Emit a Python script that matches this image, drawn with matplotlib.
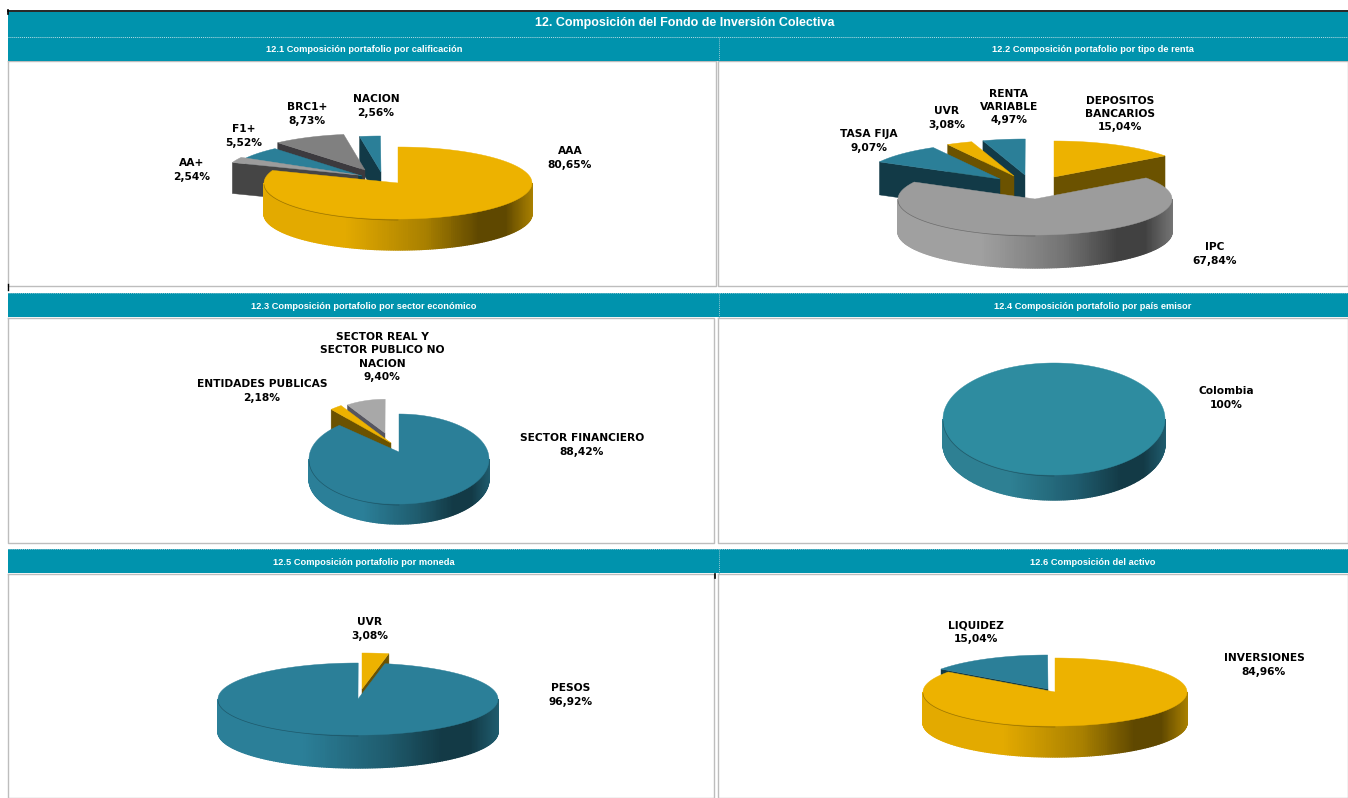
import numpy as np
import matplotlib
matplotlib.use('Agg')
import matplotlib.pyplot as plt
from matplotlib.colors import LinearSegmentedColormap

# =====================================================================================
# data
calificacionLabels = ['AAA', 'AA+', 'F1+', 'BRC1+', 'NACION']
calificacionValues = [80.65, 2.54, 5.52, 8.73, 2.56]
rentaLabels = ['DEPOSITOS\nBANCARIOS', 'IPC', 'TASA FIJA', 'UVR', 'RENTA\nVARIABLE']
rentaValues = [15.04, 67.84, 9.07, 3.08, 4.97]
sectorLabels = ['SECTOR FINANCIERO', 'ENTIDADES PUBLICAS', 'SECTOR REAL Y\nSECTOR PUBLICO NO\nNACION']
sectorValues = [88.42, 2.18, 9.40]
paisLabels = ['Colombia']
paisValues = [100]
monedaLabels = ['UVR', 'PESOS']
monedaValues = [3.08, 96.92]
activoLabels = ['INVERSIONES', 'LIQUIDEZ']
activoValues = [84.96, 15.04]

mainTitle = '12. Composición del Fondo de Inversión Colectiva'
subTitles = ['12.1 Composición portafolio por calificación',
             '12.2 Composición portafolio por tipo de renta',
             '12.3 Composición portafolio por sector económico',
             '12.4 Composición portafolio por país emisor',
             '12.5 Composición portafolio por moneda',
             '12.6 Composición del activo']

# =====================================================================================
# colours: (top face, cut wall, gradient left, gradient mid, gradient dark)
GOLD = ('#EDB200', '#6B5200', '#E3AA00', '#A98000', '#5F4800')
TEAL = ('#2B7F98', '#123A47', '#2B7F98', '#1F5C6E', '#133A46')
PAIS = ('#2E8CA0', '#123A47', '#2E8093', '#1F5C6E', '#133A46')
GREY = ('#9C9C9C', '#454545', '#A0A0A0', '#747474', '#414141')
MIDGREY = ('#808080', '#3C3A3E', '#808080', '#606060', '#404040')
LIGHTGREY = ('#A8A8A8', '#55555F', '#A8A8A8', '#747474', '#414141')

HEADER = '#0093AD'
BORDER = '#BDBDBD'

# offsets per slice: (shift x, shift y, radius scale, shift of the apex)
panels = [
    dict(values=calificacionValues, labels=calificacionLabels,
         colors=[GOLD, GREY, TEAL, MIDGREY, TEAL],
         cx=398, cy=183, rx=134, ry=36, depth=31,
         offsets=[(0, 0, 1, 0), (-40, -8, 1, 0), (-36, -7, 1, 0), (-33, -13, 1, 0), (-17, -11, 1, 0)],
         order=[4, 3, 2, 1, 0],
         text=[(570, 158), (192, 170), (244, 136), (307, 114), (376, 106)]),
    dict(values=rentaValues, labels=rentaLabels,
         colors=[GOLD, GREY, TEAL, GOLD, TEAL],
         cx=1035, cy=199, rx=137, ry=36, depth=33,
         offsets=[(19, -22, 1, 0), (0, 0, 1, 0), (-35, -20, 1, 0), (-21, -23, 1, 0), (-10, -24, 1, 0)],
         order=[4, 3, 2, 0, 1],
         text=[(1120, 114), (1215, 254), (869, 141), (947, 118), (1009, 107)]),
    dict(values=sectorValues, labels=sectorLabels,
         colors=[TEAL, GOLD, LIGHTGREY],
         cx=399, cy=459, rx=90, ry=45, depth=20,
         offsets=[(0, 0, 1, -7), (-8, -16, 1, 0), (-14, -26, 0.75, 0)],
         order=[2, 1, 0],
         text=[(582, 445), (262, 391), (382, 357)]),
    dict(values=paisValues, labels=paisLabels,
         colors=[PAIS],
         cx=1054, cy=419, rx=111, ry=56, depth=25,
         offsets=[(0, 0, 1, 0)],
         order=[0],
         text=[(1226, 398)]),
    dict(values=monedaValues, labels=monedaLabels,
         colors=[GOLD, TEAL],
         cx=358, cy=699, rx=140, ry=36, depth=33,
         offsets=[(4, -10, 1, 0), (0, 0, 1, 0)],
         order=[0, 1],
         text=[(370, 629), (571, 695)]),
    dict(values=activoValues, labels=activoLabels,
         colors=[GOLD, TEAL],
         cx=1055, cy=692, rx=132, ry=34, depth=31,
         offsets=[(0, 0, 1, 0), (-7, -3, 1, 0)],
         order=[1, 0],
         text=[(1264, 665), (976, 632)]),
]


def formatValue(value):
    if value == 100:
        return '100%'
    return f'{value:.2f}'.replace('.', ',') + '%'


def drawSlice(ax, cx, cy, rx, ry, depth, t0, t1, colors, isFull, apexShift):
    top, cutWall, gradLeft, gradMid, gradDark = colors
    cmap = LinearSegmentedColormap.from_list('wall', [(0, gradLeft), (0.3, gradLeft), (0.6, gradMid),
                                                      (0.8, gradDark), (0.9, gradDark), (1, gradMid)])
    angle = np.radians(np.arange(t0, t1 + 0.25, 0.5))
    xs = cx + rx * np.sin(angle)
    ys = cy - ry * np.cos(angle)

    # flat walls of the cut, only those turned to the viewer
    if not isFull:
        for t in (t0, t1):
            s = np.sin(np.radians(t))
            if (t == t0 and s < -1e-6) or (t == t1 and s > 1e-6):
                ex = cx + rx * s
                ey = cy - ry * np.cos(np.radians(t))
                ax.fill([cx, ex, ex, cx], [cy, ey, ey + depth, cy + depth],
                        color=cutWall, lw=0.3, zorder=3)

    # outer wall, shaded along x
    front = np.arange(max(t0, 90), min(t1, 270), 1.0)
    for t in front:
        a = np.radians([t, min(t + 1.0, t1, 270)])
        px = cx + rx * np.sin(a)
        py = cy - ry * np.cos(a)
        shade = cmap((0.5 * (px[0] + px[1]) - (cx - rx)) / (2 * rx))
        ax.fill([px[0], px[1], px[1], px[0]], [py[0], py[1], py[1] + depth, py[0] + depth],
                color=shade, lw=1, zorder=3)

    # top face
    if isFull:
        ax.fill(xs, ys, color=top, lw=0.3, zorder=3)
    else:
        ax.fill(np.r_[cx, xs], np.r_[cy + apexShift, ys], color=top, lw=0.3, zorder=3)

    # thin dark seam under the left front rim
    seam = np.radians(np.arange(max(t0, 180), min(t1, 270), 1.0))
    if len(seam) > 1:
        ax.plot(cx + rx * np.sin(seam), cy - ry * np.cos(seam) + 1, color=gradDark, lw=0.5, alpha=0.55, zorder=3)


def drawPie(ax, panel):
    values = np.array(panel['values'], dtype=float)
    edges = np.r_[0, np.cumsum(values)] / values.sum() * 360
    for i in panel['order']:
        dx, dy, scale, apexShift = panel['offsets'][i]
        drawSlice(ax, panel['cx'] + dx, panel['cy'] + dy, panel['rx'] * scale, panel['ry'] * scale, panel['depth'],
                  edges[i], edges[i + 1], panel['colors'][i], len(values) == 1, apexShift)
        x, y = panel['text'][i]
        ax.text(x, y, panel['labels'][i] + '\n' + formatValue(values[i]), ha='center', va='center',
                fontsize=7.7, fontweight='bold', family='DejaVu Sans', linespacing=1.38, color='black', zorder=5)


fig = plt.figure(figsize=(13.48, 7.98), dpi=100)
ax = fig.add_axes([0, 0, 1, 1])
ax.set_xlim(0, 1348)
ax.set_ylim(798, 0)
ax.axis('off')

# =====================================================================================
# frames of the panels
boxes = [(8, 61, 716, 286), (718, 61, 1348, 286), (8, 318, 714, 543),
         (718, 318, 1348, 543), (8, 574, 714, 798), (718, 574, 1348, 798)]
for x0, y0, x1, y1 in boxes:
    ax.plot([x0, x0, x1, x1, x0], [y0, y1, y1, y0, y0], color=BORDER, lw=1, zorder=1)

# teal bands
bands = [(12, 61), (293, 317), (549, 573)]
for y0, y1 in bands:
    ax.fill_between([8, 1348], y0, y1, color=HEADER, lw=0, zorder=2)
ax.plot([8, 1348], [11, 11], color='black', lw=1.2, zorder=3)
ax.plot([8, 8], [10, 14], color='black', lw=1.2, zorder=3)
ax.plot([8, 8], [284, 290], color='black', lw=1, zorder=3)
ax.plot([714.5, 714.5], [574, 578], color='black', lw=1.2, zorder=3)
ax.plot([8, 1348], [36.5, 36.5], color='#B9DDE4', lw=0.7, ls=(0, (1, 1)), zorder=3)
ax.plot([8, 1348], [292.5, 292.5], color='#8FC6D2', lw=0.7, ls=(0, (1, 1)), zorder=3)
ax.plot([8, 1348], [548.5, 548.5], color='#8FC6D2', lw=0.7, ls=(0, (1, 1)), zorder=3)
for y0, y1 in [(37, 62), (293, 318), (549, 574)]:
    ax.plot([719, 719], [y0, y1], color='#8FC6D2', lw=0.7, ls=(0, (1, 1)), zorder=3)

ax.text(685, 23, mainTitle, ha='center', va='center', color='white', fontsize=9, fontweight='bold',
        family='Liberation Sans', zorder=4)
subPositions = [(364.5, 49.5), (1093, 49.5), (364, 306.5), (1093, 306.5), (364, 562.5), (1093, 562.5)]
for title, (x, y) in zip(subTitles, subPositions):
    ax.text(x, y, title, ha='center', va='center', color='white', fontsize=6.7, fontweight='bold',
            family='Liberation Sans', zorder=4)

# =====================================================================================
for panel in panels:
    drawPie(ax, panel)

fig.savefig('out.png', dpi=100)
plt.close(fig)
